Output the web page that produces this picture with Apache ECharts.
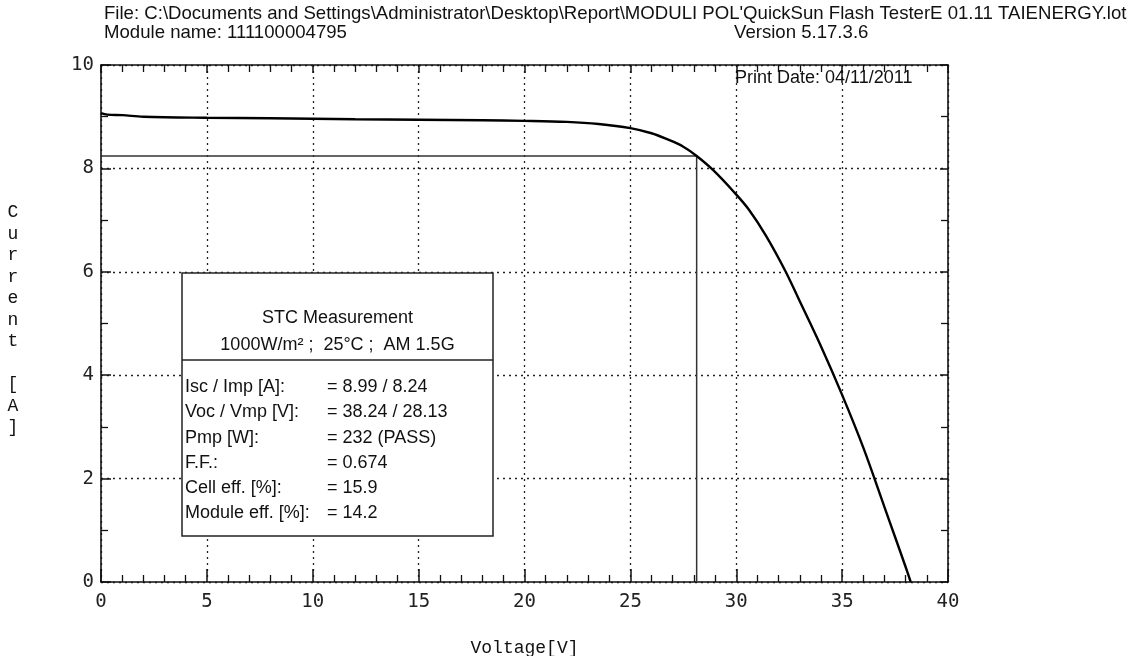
<!DOCTYPE html>
<html>
<head>
<meta charset="utf-8">
<script src="https://cdn.jsdelivr.net/npm/echarts@6/dist/echarts.min.js"></script>
<style>
html,body{margin:0;padding:0;background:#fff;}
#chart{width:1134px;height:656px;}
</style>
</head>
<body>
<div id="chart"></div>
<script>
// ---- data ----
const voltage = [0, 0.3, 1, 2, 5, 8, 10, 12, 15, 18, 20, 22, 23.5, 25, 26, 26.7, 27.5, 28.13, 28.9, 29.9, 30.6, 31.4, 32.3, 33, 34, 35, 36, 37, 37.5, 38, 38.24];
const current = [9.07, 9.04, 9.03, 9.0, 8.98, 8.97, 8.96, 8.95, 8.94, 8.93, 8.92, 8.9, 8.86, 8.78, 8.68, 8.57, 8.42, 8.24, 7.97, 7.54, 7.2, 6.7, 6.03, 5.43, 4.56, 3.62, 2.6, 1.45, 0.87, 0.29, 0];
const Vmp = 28.13;
const Imp = 8.24;
const xTitle = 'Voltage[V]';
const yTitle = 'Current [A]';
const headerLine1 = "File: C:\\Documents and Settings\\Administrator\\Desktop\\Report\\MODULI POL'QuickSun Flash TesterE 01.11 TAIENERGY.lot";
const headerLine2 = 'Module name: 111100004795';
const versionText = 'Version 5.17.3.6';
const printDate = 'Print Date: 04/11/2011';
const boxTitle = ['STC Measurement', '1000W/m\u00B2 ;  25\u00B0C ;  AM 1.5G'];
const boxLabels = ['Isc / Imp [A]:', 'Voc / Vmp [V]:', 'Pmp [W]:', 'F.F.:', 'Cell eff. [%]:', 'Module eff. [%]:'];
const boxValues = ['= 8.99 / 8.24', '= 38.24 / 28.13', '= 232 (PASS)', '= 0.674', '= 15.9', '= 14.2'];

// ---- chart ----
const chart = echarts.init(document.getElementById('chart'), null, {renderer: 'canvas'});
const ivData = voltage.map((v, i) => [v, current[i]]);
const mppData = [[0, Imp], [Vmp, Imp], [Vmp, 0]];

const sans = 'Liberation Sans, Arial, sans-serif';
const mono = 'Liberation Mono, monospace';
const tickFont = 'DejaVu Sans Mono, monospace';
const ink = '#111';

const graphics = [];
graphics.push({type: 'text', left: 104, top: 4, style: {text: headerLine1, font: '18.6px ' + sans, fill: ink}});
graphics.push({type: 'text', left: 104, top: 23, style: {text: headerLine2, font: '18.6px ' + sans, fill: ink}});
graphics.push({type: 'text', left: 734, top: 23, style: {text: versionText, font: '18.6px ' + sans, fill: ink}});
graphics.push({type: 'text', left: 735, top: 69, style: {text: printDate, font: '18px ' + sans, fill: ink}, z: 10});
graphics.push({type: 'text', x: 13, y: 320, style: {text: yTitle.split('').join('\n'), font: '18px ' + mono, fill: ink, lineHeight: 21.5, textAlign: 'center', textVerticalAlign: 'middle'}});

// measurement box
const bx = 182, by = 273, bw = 311, bh = 263, sepY = 360;
graphics.push({type: 'rect', shape: {x: bx, y: by, width: bw, height: bh}, style: {fill: '#fff', stroke: '#222', lineWidth: 1.5}, z: 20});
graphics.push({type: 'line', shape: {x1: bx, y1: sepY, x2: bx + bw, y2: sepY}, style: {stroke: '#222', lineWidth: 1.5}, z: 21});
boxTitle.forEach((t, i) => {
  graphics.push({type: 'text', x: bx + bw / 2, y: 318 + i * 27, style: {text: t, font: '18px ' + sans, fill: ink, textAlign: 'center', textVerticalAlign: 'middle'}, z: 22});
});
boxLabels.forEach((t, i) => {
  graphics.push({type: 'text', x: 185, y: 387 + i * 25.3, style: {text: t, font: '18px ' + sans, fill: ink, textAlign: 'left', textVerticalAlign: 'middle'}, z: 22});
  graphics.push({type: 'text', x: 327, y: 387 + i * 25.3, style: {text: boxValues[i], font: '18px ' + sans, fill: ink, textAlign: 'left', textVerticalAlign: 'middle'}, z: 22});
});

const dotted = {type: [2, 4], color: '#222', width: 1.3};

chart.setOption({
  animation: false,
  backgroundColor: '#fff',
  grid: {left: 101, right: 186, top: 65, bottom: 74, containLabel: false, outerBoundsMode: 'none'},
  xAxis: [{
    type: 'value', min: 0, max: 40, interval: 5, position: 'bottom',
    axisLine: {show: true, onZero: false, lineStyle: {color: ink, width: 1.6}},
    axisTick: {show: true, inside: true, length: 13, lineStyle: {color: ink, width: 1.5}},
    minorTick: {show: true, splitNumber: 5, length: 7, lineStyle: {color: ink, width: 1.3}},
    axisLabel: {fontFamily: tickFont, fontSize: 19, color: '#222', margin: 11},
    splitLine: {show: true, lineStyle: dotted},
    name: xTitle, nameLocation: 'middle', nameGap: 57,
    nameTextStyle: {fontFamily: mono, fontSize: 18, color: ink}
  }, {
    type: 'value', min: 0, max: 40, interval: 5, position: 'top',
    axisLine: {show: true, onZero: false, lineStyle: {color: ink, width: 1.6}},
    axisTick: {show: true, inside: true, length: 8, lineStyle: {color: ink, width: 1.5}},
    minorTick: {show: true, splitNumber: 5, length: 7, lineStyle: {color: ink, width: 1.3}},
    axisLabel: {show: false},
    splitLine: {show: false}
  }],
  yAxis: [{
    type: 'value', min: 0, max: 10, interval: 2, position: 'left',
    axisLine: {show: true, onZero: false, lineStyle: {color: ink, width: 1.6}},
    axisTick: {show: true, inside: true, length: 10, lineStyle: {color: ink, width: 1.5}},
    minorTick: {show: true, splitNumber: 2, length: 7, lineStyle: {color: ink, width: 1.3}},
    axisLabel: {fontFamily: tickFont, fontSize: 19, color: '#222', margin: 7},
    splitLine: {show: true, lineStyle: dotted}
  }, {
    type: 'value', min: 0, max: 10, interval: 2, position: 'right',
    axisLine: {show: true, onZero: false, lineStyle: {color: ink, width: 1.6}},
    axisTick: {show: true, inside: true, length: 8, lineStyle: {color: ink, width: 1.5}},
    minorTick: {show: true, splitNumber: 2, length: 7, lineStyle: {color: ink, width: 1.3}},
    axisLabel: {show: false},
    splitLine: {show: false}
  }],
  series: [{
    type: 'line', data: mppData, xAxisIndex: 0, yAxisIndex: 0,
    symbol: 'none', lineStyle: {color: '#333', width: 1.5}, z: 3
  }, {
    type: 'line', data: ivData, xAxisIndex: 0, yAxisIndex: 0,
    symbol: 'none', smooth: 0.35, lineStyle: {color: '#000', width: 2.4}, z: 4
  }],
  graphic: graphics
});
</script>
</body>
</html>
